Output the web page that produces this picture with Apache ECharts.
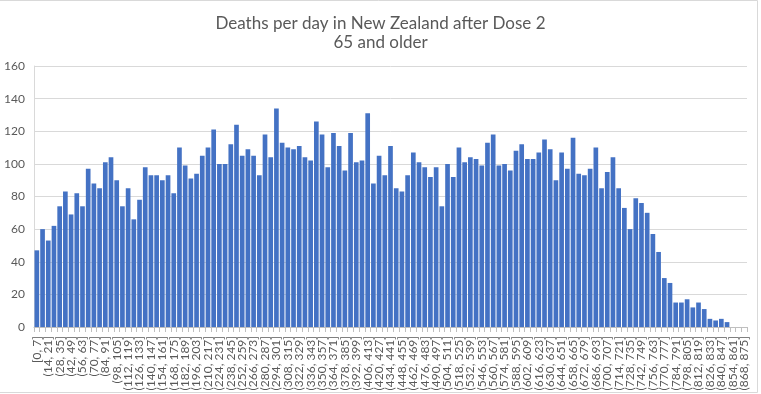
<!DOCTYPE html>
<html>
<head>
<meta charset="utf-8">
<script src="https://cdn.jsdelivr.net/npm/echarts@6/dist/echarts.min.js"></script>
<style>
html,body{margin:0;padding:0;background:#fff;}
#chart{width:761px;height:394px;}
</style>
</head>
<body>
<div id="chart"></div>
<script>
const titleLines = ["Deaths per day in New Zealand after Dose 2", "65 and older"];

const categories = [
"[0, 7]","(7, 14]","(14, 21]","(21, 28]","(28, 35]","(35, 42]","(42, 49]","(49, 56]","(56, 63]","(63, 70]",
"(70, 77]","(77, 84]","(84, 91]","(91, 98]","(98, 105]","(105, 112]","(112, 119]","(119, 126]","(126, 133]","(133, 140]",
"(140, 147]","(147, 154]","(154, 161]","(161, 168]","(168, 175]","(175, 182]","(182, 189]","(189, 196]","(196, 203]","(203, 210]",
"(210, 217]","(217, 224]","(224, 231]","(231, 238]","(238, 245]","(245, 252]","(252, 259]","(259, 266]","(266, 273]","(273, 280]",
"(280, 287]","(287, 294]","(294, 301]","(301, 308]","(308, 315]","(315, 322]","(322, 329]","(329, 336]","(336, 343]","(343, 350]",
"(350, 357]","(357, 364]","(364, 371]","(371, 378]","(378, 385]","(385, 392]","(392, 399]","(399, 406]","(406, 413]","(413, 420]",
"(420, 427]","(427, 434]","(434, 441]","(441, 448]","(448, 455]","(455, 462]","(462, 469]","(469, 476]","(476, 483]","(483, 490]",
"(490, 497]","(497, 504]","(504, 511]","(511, 518]","(518, 525]","(525, 532]","(532, 539]","(539, 546]","(546, 553]","(553, 560]",
"(560, 567]","(567, 574]","(574, 581]","(581, 588]","(588, 595]","(595, 602]","(602, 609]","(609, 616]","(616, 623]","(623, 630]",
"(630, 637]","(637, 644]","(644, 651]","(651, 658]","(658, 665]","(665, 672]","(672, 679]","(679, 686]","(686, 693]","(693, 700]",
"(700, 707]","(707, 714]","(714, 721]","(721, 728]","(728, 735]","(735, 742]","(742, 749]","(749, 756]","(756, 763]","(763, 770]",
"(770, 777]","(777, 784]","(784, 791]","(791, 798]","(798, 805]","(805, 812]","(812, 819]","(819, 826]","(826, 833]","(833, 840]",
"(840, 847]","(847, 854]","(854, 861]","(861, 868]","(868, 875]"
];

const deaths = [
47,60,53,62,74,83,69,82,74,97,
88,85,101,104,90,74,85,66,78,98,
93,93,90,93,82,110,99,91,94,105,
110,121,100,100,112,124,105,109,105,93,
118,104,134,113,110,109,111,104,102,126,
118,98,119,111,96,119,101,102,131,88,
105,93,111,85,83,93,107,101,98,92,
98,74,100,92,110,101,104,103,99,113,
118,99,100,96,108,112,103,103,107,115,
109,90,107,97,116,94,93,97,110,85,
95,104,85,73,60,79,76,70,57,46,
30,27,15,15,17,12,15,11,5,4,
5,3,0,0,0
];

const yTicks = {min: 0, max: 160, interval: 20};

const chart = echarts.init(document.getElementById('chart'), null, {renderer: 'canvas'});
const font = 'Lato, "Open Sans", sans-serif';
chart.setOption({
  animation: false,
  backgroundColor: '#ffffff',
  title: {
    text: titleLines.join('\n'),
    left: 'center',
    top: 9,
    textStyle: {fontFamily: font, fontSize: 17, fontWeight: 'normal', color: '#595959', lineHeight: 19}
  },
  graphic: [{
    type: 'rect',
    shape: {x: -1, y: 0.5, width: 758.5, height: 392},
    style: {fill: 'none', stroke: '#d9d9d9', lineWidth: 1},
    silent: true
  }],
  grid: {left: 34, right: 14, top: 66, bottom: 67, containLabel: false},
  xAxis: {
    type: 'category',
    data: categories,
    boundaryGap: true,
    axisLine: {show: true, lineStyle: {color: '#bfbfbf', width: 1}},
    axisTick: {show: true, length: 5, alignWithLabel: false, interval: 0, lineStyle: {color: '#bfbfbf'}},
    axisLabel: {interval: 0, rotate: 90, margin: 9, showMinLabel: true, showMaxLabel: true, hideOverlap: false,
      formatter: function (value, idx) { return idx % 2 === 0 ? value : ''; },
      fontFamily: font, fontSize: 12, color: '#595959'}
  },
  yAxis: {
    type: 'value',
    min: yTicks.min,
    max: yTicks.max,
    interval: yTicks.interval,
    axisLine: {show: true, lineStyle: {color: '#d9d9d9'}},
    axisTick: {show: false},
    axisLabel: {margin: 9, fontFamily: font, fontSize: 12, color: '#595959'},
    splitLine: {show: true, lineStyle: {color: '#d9d9d9', width: 1}}
  },
  series: [{
    type: 'bar',
    data: deaths,
    barCategoryGap: '18%',
    itemStyle: {color: '#4472C4'}
  }]
});
</script>
</body>
</html>
